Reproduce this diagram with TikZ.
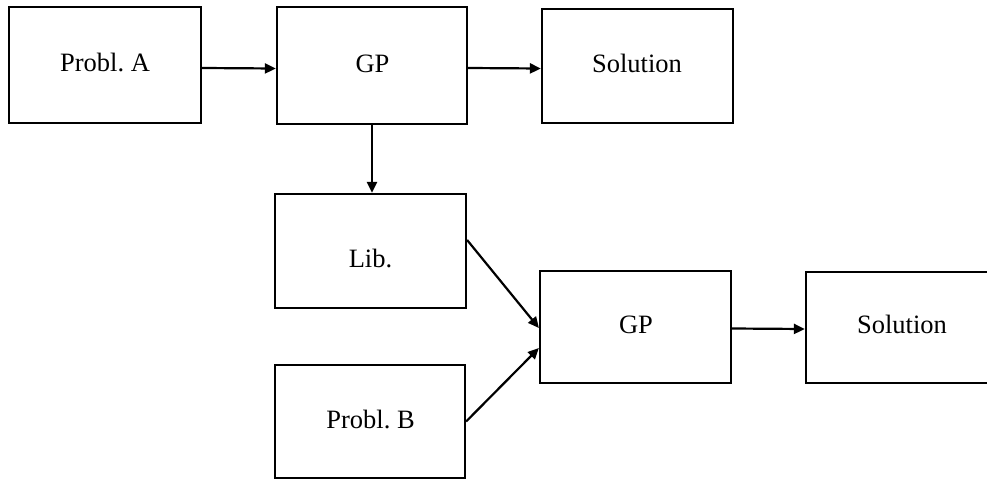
\documentclass[tikz,border=0pt]{standalone}
\usepackage{fontspec}
\setmainfont{Liberation Serif}
\usetikzlibrary{arrows.meta}
\frenchspacing
\tikzset{
  box/.style={draw, line width=2.2pt, minimum width=#1, inner sep=0pt},
  lbl/.style={anchor=base, inner sep=0pt, font=\fontsize{26.5}{30}\selectfont},
  conn/.style={line width=2.2pt, -{Triangle[length=11pt,width=10pt]}}
}
\begin{document}
\begin{tikzpicture}[x=1pt,y=-1pt]
\useasboundingbox (0,0) rectangle (987,479);
\clip (0,0) rectangle (987,479);
% boxes
\node[box=192pt, minimum height=116pt] (pa) at (105,65) {};
\node[box=190pt, minimum height=117pt] (gp1) at (372,65.5) {};
\node[box=191pt, minimum height=114pt] (sol1) at (637.5,66) {};
\node[box=191pt, minimum height=114pt] (lib) at (370.5,251) {};
\node[box=190pt, minimum height=113pt] (pb) at (370,421.5) {};
\node[box=191pt, minimum height=112pt] (gp2) at (635.5,327) {};
\node[box=192pt, minimum height=111pt] (sol2) at (902,327.5) {};
% labels
\node[lbl] (pa-t) at (105,71) {Probl. A};
\node[lbl] (gp1-t) at (372.5,72) {GP};
\node[lbl] (sol1-t) at (637,72) {Solution};
\node[lbl] (lib-t) at (370.5,267) {Lib.};
\node[lbl] (pb-t) at (370.5,428) {Probl. B};
\node[lbl] (gp2-t) at (636,333) {GP};
\node[lbl] (sol2-t) at (902,333) {Solution};
% connectors
\draw[conn] ([yshift=-3pt]pa.east) -- ([yshift=-3pt]gp1.west);
\draw[conn] ([yshift=-2.5pt]gp1.east) -- ([yshift=-2.5pt]sol1.west);
\draw[conn] (gp1.south) -- (gp1.south |- lib.north);
\draw[conn] ([yshift=11pt]lib.east) -- ([yshift=-1pt]gp2.west);
\draw[conn] (pb.east) -- ([yshift=-21pt]gp2.west);
\draw[conn] ([yshift=-1.5pt]gp2.east) -- ([yshift=-1.5pt]sol2.west);
\end{tikzpicture}
\end{document}
